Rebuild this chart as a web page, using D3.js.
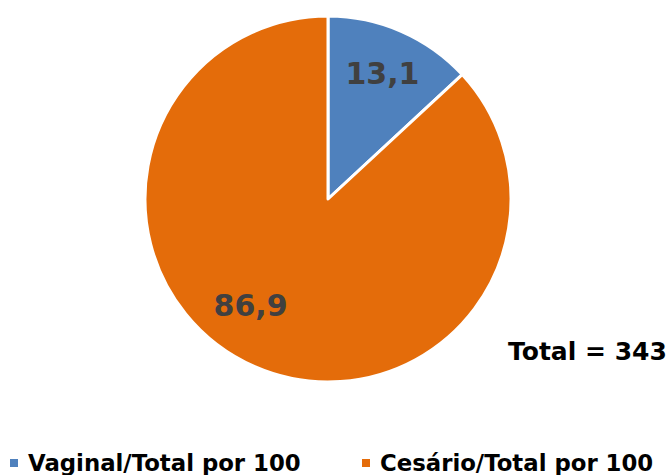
<!DOCTYPE html>
<meta charset="utf-8">
<head>
  <title>Partos</title>
  <script src="https://cdn.jsdelivr.net/npm/d3@7"></script>
  <style>
    body { margin: 0; background: #fff; }
    text { font-family: "DejaVu Sans", Verdana, sans-serif; font-weight: bold; }
  </style>
</head>
<body>
<svg width="672" height="475"></svg>
<script>

  var categories = ["Vaginal/Total por 100", "Cesário/Total por 100"];
  var values = [13.1, 86.9];
  var labels = ["13,1", "86,9"];
  var total = 343;
  var colors = ["#4f81bd", "#e46c0a"];

  var cx = 328, cy = 199, r = 183;

  var svg = d3.select("svg");
  var g = svg.append("g").attr("transform", "translate(" + cx + "," + cy + ")");

  var pie = d3.pie().sort(null).value(function(d) { return d; });
  var arcs = pie(values);

  var arc = d3.arc().innerRadius(0).outerRadius(r);
  var labelArc = d3.arc().innerRadius(r * 0.73).outerRadius(r * 0.73);

  g.selectAll("path")
    .data(arcs)
    .enter()
      .append("path")
      .attr("d", arc)
      .attr("fill", function(d, i) { return colors[i]; })
      .attr("stroke", "#fff")
      .attr("stroke-width", 3)
      .attr("stroke-linejoin", "round");

  // excel "best fit" nudges the big label a bit to the left/up
  var nudge = [[1, -3], [-24, -16]];

  g.selectAll("text.lbl")
    .data(arcs)
    .enter()
      .append("text")
      .attr("class", "lbl")
      .attr("x", function(d, i) { return labelArc.centroid(d)[0] + nudge[i][0]; })
      .attr("y", function(d, i) { return labelArc.centroid(d)[1] + nudge[i][1]; })
      .attr("dy", "0.36em")
      .attr("text-anchor", "middle")
      .attr("font-size", 30)
      .attr("fill", "#404040")
      .text(function(d, i) { return labels[i]; });

  svg.append("text")
    .attr("x", 508)
    .attr("y", 360)
    .attr("font-size", 25)
    .attr("fill", "#000")
    .text("Total = " + total);

  var legendX = d3.scaleOrdinal().domain(categories).range([10, 362]);

  var leg = svg.selectAll("g.leg")
    .data(categories)
    .enter()
      .append("g")
      .attr("class", "leg")
      .attr("transform", function(d) { return "translate(" + legendX(d) + ",0)"; });

  leg.append("rect")
    .attr("x", 0).attr("y", 459)
    .attr("width", 8).attr("height", 8)
    .attr("fill", function(d, i) { return colors[i]; });

  leg.append("text")
    .attr("x", 18).attr("y", 471)
    .attr("font-size", 22.8)
    .attr("fill", "#000")
    .text(function(d) { return d; });

</script>
</body>
</html>
